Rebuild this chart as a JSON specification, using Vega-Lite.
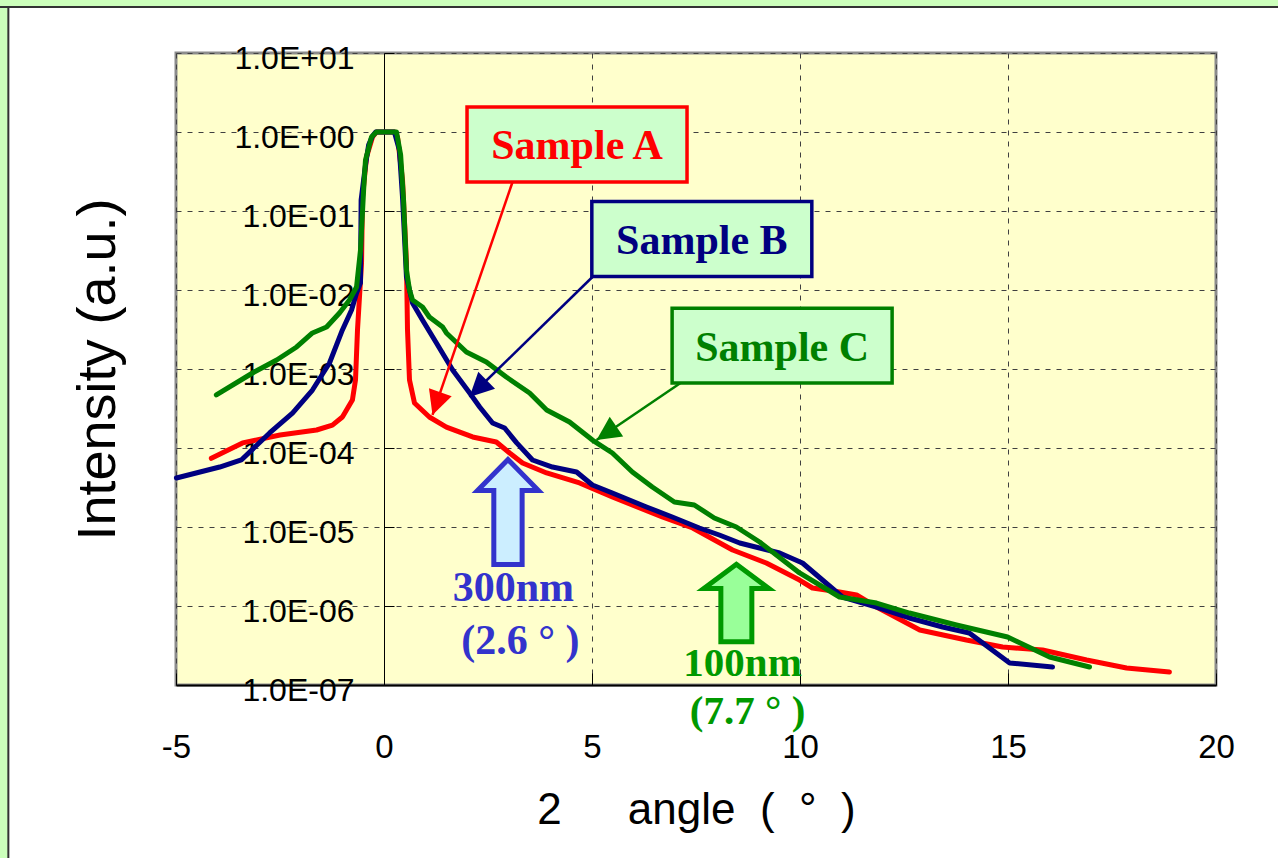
{
  "$schema": "https://vega.github.io/schema/vega-lite/v6.json",
  "width": 1040,
  "height": 632,
  "autosize": {"type": "none"},
  "padding": {"left": 176, "top": 53, "right": 62, "bottom": 173},
  "background": "#ffffff",
  "config": {"view": {"fill": "#ffffcc", "stroke": "#8c8c8c", "strokeWidth": 3}},
  "datasets": {
    "curves": [
      {"sample": "Sample A", "angle": -4.15, "intensity": 7.41e-5},
      {"sample": "Sample A", "angle": -3.40, "intensity": 1.16e-4},
      {"sample": "Sample A", "angle": -2.50, "intensity": 1.46e-4},
      {"sample": "Sample A", "angle": -1.62, "intensity": 1.69e-4},
      {"sample": "Sample A", "angle": -1.24, "intensity": 1.95e-4},
      {"sample": "Sample A", "angle": -1.00, "intensity": 2.47e-4},
      {"sample": "Sample A", "angle": -0.76, "intensity": 4.05e-4},
      {"sample": "Sample A", "angle": -0.685, "intensity": 7.26e-4},
      {"sample": "Sample A", "angle": -0.637, "intensity": 3.12e-3},
      {"sample": "Sample A", "angle": -0.54, "intensity": 0.022},
      {"sample": "Sample A", "angle": -0.517, "intensity": 0.15},
      {"sample": "Sample A", "angle": -0.42, "intensity": 0.483},
      {"sample": "Sample A", "angle": -0.276, "intensity": 0.865},
      {"sample": "Sample A", "angle": -0.18, "intensity": 1.0},
      {"sample": "Sample A", "angle": 0.25, "intensity": 1.0},
      {"sample": "Sample A", "angle": 0.325, "intensity": 0.865},
      {"sample": "Sample A", "angle": 0.445, "intensity": 0.247},
      {"sample": "Sample A", "angle": 0.54, "intensity": 0.022},
      {"sample": "Sample A", "angle": 0.565, "intensity": 3.12e-3},
      {"sample": "Sample A", "angle": 0.613, "intensity": 7.26e-4},
      {"sample": "Sample A", "angle": 0.733, "intensity": 3.71e-4},
      {"sample": "Sample A", "angle": 1.09, "intensity": 2.47e-4},
      {"sample": "Sample A", "angle": 1.50, "intensity": 1.84e-4},
      {"sample": "Sample A", "angle": 2.13, "intensity": 1.38e-4},
      {"sample": "Sample A", "angle": 2.70, "intensity": 1.19e-4},
      {"sample": "Sample A", "angle": 3.02, "intensity": 8.65e-5},
      {"sample": "Sample A", "angle": 3.33, "intensity": 6.46e-5},
      {"sample": "Sample A", "angle": 3.91, "intensity": 4.83e-5},
      {"sample": "Sample A", "angle": 4.70, "intensity": 3.61e-5},
      {"sample": "Sample A", "angle": 5.49, "intensity": 2.40e-5},
      {"sample": "Sample A", "angle": 6.69, "intensity": 1.34e-5},
      {"sample": "Sample A", "angle": 7.42, "intensity": 9.71e-6},
      {"sample": "Sample A", "angle": 8.38, "intensity": 5.12e-6},
      {"sample": "Sample A", "angle": 9.19, "intensity": 3.50e-6},
      {"sample": "Sample A", "angle": 9.99, "intensity": 2.13e-6},
      {"sample": "Sample A", "angle": 10.30, "intensity": 1.69e-6},
      {"sample": "Sample A", "angle": 10.95, "intensity": 1.50e-6},
      {"sample": "Sample A", "angle": 11.36, "intensity": 1.38e-6},
      {"sample": "Sample A", "angle": 11.84, "intensity": 9.71e-7},
      {"sample": "Sample A", "angle": 12.88, "intensity": 4.97e-7},
      {"sample": "Sample A", "angle": 14.00, "intensity": 3.71e-7},
      {"sample": "Sample A", "angle": 14.87, "intensity": 3.03e-7},
      {"sample": "Sample A", "angle": 15.83, "intensity": 2.77e-7},
      {"sample": "Sample A", "angle": 16.89, "intensity": 2.07e-7},
      {"sample": "Sample A", "angle": 17.85, "intensity": 1.64e-7},
      {"sample": "Sample A", "angle": 18.88, "intensity": 1.46e-7},
      {"sample": "Sample B", "angle": -4.99, "intensity": 4.17e-5},
      {"sample": "Sample B", "angle": -3.95, "intensity": 5.74e-5},
      {"sample": "Sample B", "angle": -3.43, "intensity": 7.05e-5},
      {"sample": "Sample B", "angle": -2.75, "intensity": 1.55e-4},
      {"sample": "Sample B", "angle": -2.20, "intensity": 2.77e-4},
      {"sample": "Sample B", "angle": -1.72, "intensity": 5.42e-4},
      {"sample": "Sample B", "angle": -1.31, "intensity": 1.19e-3},
      {"sample": "Sample B", "angle": -1.00, "intensity": 3.12e-3},
      {"sample": "Sample B", "angle": -0.78, "intensity": 5.58e-3},
      {"sample": "Sample B", "angle": -0.66, "intensity": 9.16e-3},
      {"sample": "Sample B", "angle": -0.565, "intensity": 0.0123},
      {"sample": "Sample B", "angle": -0.55, "intensity": 0.138},
      {"sample": "Sample B", "angle": -0.445, "intensity": 0.382},
      {"sample": "Sample B", "angle": -0.37, "intensity": 0.684},
      {"sample": "Sample B", "angle": -0.276, "intensity": 0.89},
      {"sample": "Sample B", "angle": -0.2, "intensity": 1.0},
      {"sample": "Sample B", "angle": 0.25, "intensity": 1.0},
      {"sample": "Sample B", "angle": 0.37, "intensity": 0.592},
      {"sample": "Sample B", "angle": 0.445, "intensity": 0.15},
      {"sample": "Sample B", "angle": 0.54, "intensity": 0.0146},
      {"sample": "Sample B", "angle": 0.685, "intensity": 6.85e-3},
      {"sample": "Sample B", "angle": 0.925, "intensity": 4.17e-3},
      {"sample": "Sample B", "angle": 1.26, "intensity": 2.13e-3},
      {"sample": "Sample B", "angle": 1.65, "intensity": 9.71e-4},
      {"sample": "Sample B", "angle": 2.06, "intensity": 4.97e-4},
      {"sample": "Sample B", "angle": 2.30, "intensity": 3.30e-4},
      {"sample": "Sample B", "angle": 2.61, "intensity": 2.07e-4},
      {"sample": "Sample B", "angle": 2.90, "intensity": 1.79e-4},
      {"sample": "Sample B", "angle": 3.19, "intensity": 1.16e-4},
      {"sample": "Sample B", "angle": 3.57, "intensity": 7.05e-5},
      {"sample": "Sample B", "angle": 4.05, "intensity": 5.74e-5},
      {"sample": "Sample B", "angle": 4.63, "intensity": 4.97e-5},
      {"sample": "Sample B", "angle": 5.01, "intensity": 3.40e-5},
      {"sample": "Sample B", "angle": 5.49, "intensity": 2.69e-5},
      {"sample": "Sample B", "angle": 6.31, "intensity": 1.79e-5},
      {"sample": "Sample B", "angle": 6.93, "intensity": 1.34e-5},
      {"sample": "Sample B", "angle": 7.58, "intensity": 9.71e-6},
      {"sample": "Sample B", "angle": 8.06, "intensity": 7.92e-6},
      {"sample": "Sample B", "angle": 8.55, "intensity": 6.27e-6},
      {"sample": "Sample B", "angle": 9.51, "intensity": 4.69e-6},
      {"sample": "Sample B", "angle": 10.06, "intensity": 3.50e-6},
      {"sample": "Sample B", "angle": 11.02, "intensity": 1.30e-6},
      {"sample": "Sample B", "angle": 11.84, "intensity": 9.71e-7},
      {"sample": "Sample B", "angle": 12.63, "intensity": 7.05e-7},
      {"sample": "Sample B", "angle": 13.43, "intensity": 5.42e-7},
      {"sample": "Sample B", "angle": 14.07, "intensity": 4.55e-7},
      {"sample": "Sample B", "angle": 15.04, "intensity": 1.90e-7},
      {"sample": "Sample B", "angle": 16.07, "intensity": 1.69e-7},
      {"sample": "Sample C", "angle": -4.03, "intensity": 4.69e-4},
      {"sample": "Sample C", "angle": -3.16, "intensity": 8.90e-4},
      {"sample": "Sample C", "angle": -2.58, "intensity": 1.30e-3},
      {"sample": "Sample C", "angle": -2.10, "intensity": 1.90e-3},
      {"sample": "Sample C", "angle": -1.72, "intensity": 2.86e-3},
      {"sample": "Sample C", "angle": -1.38, "intensity": 3.40e-3},
      {"sample": "Sample C", "angle": -1.07, "intensity": 5.12e-3},
      {"sample": "Sample C", "angle": -0.83, "intensity": 7.47e-3},
      {"sample": "Sample C", "angle": -0.66, "intensity": 0.0109},
      {"sample": "Sample C", "angle": -0.565, "intensity": 0.032},
      {"sample": "Sample C", "angle": -0.49, "intensity": 0.184},
      {"sample": "Sample C", "angle": -0.445, "intensity": 0.442},
      {"sample": "Sample C", "angle": -0.3, "intensity": 0.865},
      {"sample": "Sample C", "angle": -0.18, "intensity": 1.0},
      {"sample": "Sample C", "angle": 0.3, "intensity": 1.0},
      {"sample": "Sample C", "angle": 0.4, "intensity": 0.512},
      {"sample": "Sample C", "angle": 0.47, "intensity": 0.138},
      {"sample": "Sample C", "angle": 0.54, "intensity": 0.0179},
      {"sample": "Sample C", "angle": 0.613, "intensity": 0.01},
      {"sample": "Sample C", "angle": 0.685, "intensity": 7.47e-3},
      {"sample": "Sample C", "angle": 0.925, "intensity": 6.09e-3},
      {"sample": "Sample C", "angle": 1.09, "intensity": 4.55e-3},
      {"sample": "Sample C", "angle": 1.41, "intensity": 3.40e-3},
      {"sample": "Sample C", "angle": 1.50, "intensity": 2.86e-3},
      {"sample": "Sample C", "angle": 1.98, "intensity": 1.64e-3},
      {"sample": "Sample C", "angle": 2.46, "intensity": 1.23e-3},
      {"sample": "Sample C", "angle": 2.94, "intensity": 7.92e-4},
      {"sample": "Sample C", "angle": 3.50, "intensity": 4.97e-4},
      {"sample": "Sample C", "angle": 3.91, "intensity": 3.03e-4},
      {"sample": "Sample C", "angle": 4.46, "intensity": 2.13e-4},
      {"sample": "Sample C", "angle": 5.01, "intensity": 1.26e-4},
      {"sample": "Sample C", "angle": 5.49, "intensity": 8.65e-5},
      {"sample": "Sample C", "angle": 5.97, "intensity": 4.97e-5},
      {"sample": "Sample C", "angle": 6.45, "intensity": 3.21e-5},
      {"sample": "Sample C", "angle": 6.98, "intensity": 2.07e-5},
      {"sample": "Sample C", "angle": 7.46, "intensity": 1.90e-5},
      {"sample": "Sample C", "angle": 7.94, "intensity": 1.30e-5},
      {"sample": "Sample C", "angle": 8.47, "intensity": 1.0e-5},
      {"sample": "Sample C", "angle": 9.03, "intensity": 6.46e-6},
      {"sample": "Sample C", "angle": 9.99, "intensity": 2.62e-6},
      {"sample": "Sample C", "angle": 10.95, "intensity": 1.30e-6},
      {"sample": "Sample C", "angle": 11.84, "intensity": 1.09e-6},
      {"sample": "Sample C", "angle": 12.63, "intensity": 8.15e-7},
      {"sample": "Sample C", "angle": 13.76, "intensity": 5.74e-7},
      {"sample": "Sample C", "angle": 14.99, "intensity": 4.05e-7},
      {"sample": "Sample C", "angle": 16.00, "intensity": 2.26e-7},
      {"sample": "Sample C", "angle": 16.96, "intensity": 1.69e-7}
    ],
    "callouts": [
      {"sample": "Sample A", "bx": 4.64, "by": 0.695, "sx": 3.09, "sy": 0.233, "tx": 1.166, "ty": 2.62e-4, "heading": 199},
      {"sample": "Sample B", "bx": 7.64, "by": 0.0442, "sx": 5.01, "sy": 0.0146, "tx": 2.055, "ty": 4.42e-4, "heading": 225.7},
      {"sample": "Sample C", "bx": 9.57, "by": 1.98e-3, "sx": 7.34, "sy": 7.92e-4, "tx": 5.11, "ty": 1.26e-4, "heading": 235.9}
    ],
    "markers": [
      {"group": "300nm", "x": 2.98, "y": 1.55e-5},
      {"group": "100nm", "x": 8.47, "y": 1.09e-6}
    ],
    "notes": [
      {"group": "300nm", "label": "300nm", "x": 3.11, "y": 1.69e-6},
      {"group": "300nm", "label": "(2.6 ° )", "x": 3.28, "y": 3.6e-7},
      {"group": "100nm", "label": "100nm", "x": 8.62, "y": 1.85e-7},
      {"group": "100nm", "label": "(7.7 ° )", "x": 8.74, "y": 4.6e-8}
    ],
    "frame": [{}]
  },
  "layer": [
    {
      "data": {"name": "curves"},
      "mark": {"type": "line", "strokeWidth": 5, "strokeJoin": "round", "strokeCap": "round"},
      "encoding": {
        "x": {
          "field": "angle", "type": "quantitative",
          "scale": {"domain": [-5, 20], "nice": false, "zero": false},
          "axis": {
            "values": [-5, 0, 5, 10, 15, 20],
            "labelExpr": "datum.value < 0 ? '-' + abs(datum.value) : '' + datum.value",
            "title": "2\u2003\u2002angle\u00a0\u00a0(\u00a0\u00a0°\u00a0\u00a0)",
            "titleFont": "Liberation Sans", "titleFontSize": 44, "titleFontWeight": "normal", "titleColor": "#000000",
            "titleY": 125, "titleBaseline": "middle",
            "labelFont": "Liberation Sans", "labelFontSize": 33, "labelColor": "#000000",
            "labelPadding": 74, "labelBaseline": "middle", "labelFlush": false, "labelOverlap": false,
            "tickSize": -12, "tickColor": "#000000", "tickWidth": 1,
            "domainColor": "#000000", "domainWidth": 2,
            "grid": true, "gridColor": "#404040", "gridDash": [5, 6], "gridWidth": 1,
            "zindex": 0
          }
        },
        "y": {
          "field": "intensity", "type": "quantitative",
          "scale": {"type": "log", "domain": [1e-7, 10], "nice": false},
          "axis": {
            "values": [1e-7, 1e-6, 1e-5, 1e-4, 1e-3, 1e-2, 1e-1, 1, 10],
            "labelExpr": "'1.0E' + (datum.value >= 1 ? '+' : '-') + '0' + abs(round(log(datum.value) / LN10))",
            "offset": -208,
            "title": "Intensity (a.u.)",
            "titleFont": "Liberation Sans", "titleFontSize": 54, "titleFontWeight": "normal", "titleColor": "#000000",
            "titleX": -286, "titleY": 316, "titleBaseline": "middle",
            "labelFont": "Liberation Sans", "labelFontSize": 32, "labelColor": "#000000",
            "labelAlign": "right", "labelBaseline": "middle", "labelPadding": 40, "labelOffset": 5,
            "labelFlush": false, "labelOverlap": false,
            "tickSize": -10, "tickColor": "#000000", "tickWidth": 1,
            "domainColor": "#000000", "domainWidth": 1,
            "grid": true, "gridColor": "#404040", "gridDash": [5, 6], "gridWidth": 1,
            "zindex": 0
          }
        },
        "color": {
          "field": "sample", "type": "nominal",
          "scale": {"domain": ["Sample A", "Sample B", "Sample C"], "range": ["#ff0000", "#000080", "#008000"]},
          "legend": null
        }
      }
    },
    {
      "data": {"name": "callouts"},
      "mark": {"type": "rule", "strokeWidth": 2.5},
      "encoding": {
        "x": {"field": "sx", "type": "quantitative"},
        "y": {"field": "sy", "type": "quantitative"},
        "x2": {"field": "tx"},
        "y2": {"field": "ty"},
        "color": {"field": "sample", "type": "nominal", "legend": null}
      }
    },
    {
      "data": {"name": "callouts"},
      "mark": {"type": "point", "shape": "M0,0 L0.5,1 L-0.5,1 Z", "size": 2304, "filled": true, "opacity": 1, "strokeWidth": 0},
      "encoding": {
        "x": {"field": "tx", "type": "quantitative"},
        "y": {"field": "ty", "type": "quantitative"},
        "angle": {"field": "heading", "type": "quantitative", "scale": null},
        "color": {"field": "sample", "type": "nominal", "legend": null}
      }
    },
    {
      "data": {"name": "callouts"},
      "mark": {"type": "point", "shape": "M-1,-0.34 L1,-0.34 L1,0.34 L-1,0.34 Z", "size": 48400, "filled": true, "fill": "#ccffcc", "opacity": 1, "strokeWidth": 3.5},
      "encoding": {
        "x": {"field": "bx", "type": "quantitative"},
        "y": {"field": "by", "type": "quantitative"},
        "stroke": {
          "field": "sample", "type": "nominal",
          "scale": {"domain": ["Sample A", "Sample B", "Sample C"], "range": ["#ff0000", "#000080", "#008000"]},
          "legend": null
        }
      }
    },
    {
      "data": {"name": "callouts"},
      "mark": {"type": "text", "font": "Liberation Serif", "fontWeight": "bold", "fontSize": 42, "align": "center", "baseline": "middle", "dy": 2},
      "encoding": {
        "x": {"field": "bx", "type": "quantitative"},
        "y": {"field": "by", "type": "quantitative"},
        "text": {"field": "sample"},
        "color": {"field": "sample", "type": "nominal", "legend": null}
      }
    },
    {
      "data": {"name": "markers"},
      "transform": [{"filter": "datum.group === '300nm'"}],
      "mark": {"type": "point", "shape": "M0,-1 L0.58,-0.41 L0.27,-0.41 L0.27,1 L-0.27,1 L-0.27,-0.41 L-0.58,-0.41 Z", "size": 11000, "filled": true, "fill": "#cceeff", "stroke": "#3333cc", "strokeWidth": 5, "opacity": 1},
      "encoding": {
        "x": {"field": "x", "type": "quantitative"},
        "y": {"field": "y", "type": "quantitative"}
      }
    },
    {
      "data": {"name": "markers"},
      "transform": [{"filter": "datum.group === '100nm'"}],
      "mark": {"type": "point", "shape": "M0,-1 L0.84,-0.375 L0.4,-0.375 L0.4,1 L-0.4,1 L-0.4,-0.375 L-0.84,-0.375 Z", "size": 6000, "filled": true, "fill": "#99ff99", "stroke": "#009900", "strokeWidth": 5, "opacity": 1},
      "encoding": {
        "x": {"field": "x", "type": "quantitative"},
        "y": {"field": "y", "type": "quantitative"}
      }
    },
    {
      "data": {"name": "notes"},
      "transform": [{"filter": "datum.group === '300nm'"}],
      "mark": {"type": "text", "font": "Liberation Serif", "fontWeight": "bold", "fontSize": 42, "align": "center", "baseline": "middle", "color": "#3333cc"},
      "encoding": {
        "x": {"field": "x", "type": "quantitative"},
        "y": {"field": "y", "type": "quantitative"},
        "text": {"field": "label"}
      }
    },
    {
      "data": {"name": "notes"},
      "transform": [{"filter": "datum.group === '100nm'"}],
      "mark": {"type": "text", "font": "Liberation Serif", "fontWeight": "bold", "fontSize": 41, "align": "center", "baseline": "middle", "color": "#009900"},
      "encoding": {
        "x": {"field": "x", "type": "quantitative"},
        "y": {"field": "y", "type": "quantitative"},
        "text": {"field": "label"}
      }
    },
    {
      "data": {"name": "frame"},
      "mark": {"type": "rect", "fill": "#ccffbb", "stroke": "#333333", "strokeWidth": 2},
      "encoding": {
        "x": {"datum": -20, "type": "quantitative"},
        "x2": {"datum": -9.03},
        "y": {"datum": 1000, "type": "quantitative"},
        "y2": {"datum": 1e-10}
      }
    },
    {
      "data": {"name": "frame"},
      "mark": {"type": "rect", "fill": "#ccffbb", "stroke": "#333333", "strokeWidth": 2},
      "encoding": {
        "x": {"datum": -20, "type": "quantitative"},
        "x2": {"datum": 30},
        "y": {"datum": 1000, "type": "quantitative"},
        "y2": {"datum": 38.2}
      }
    }
  ]
}
